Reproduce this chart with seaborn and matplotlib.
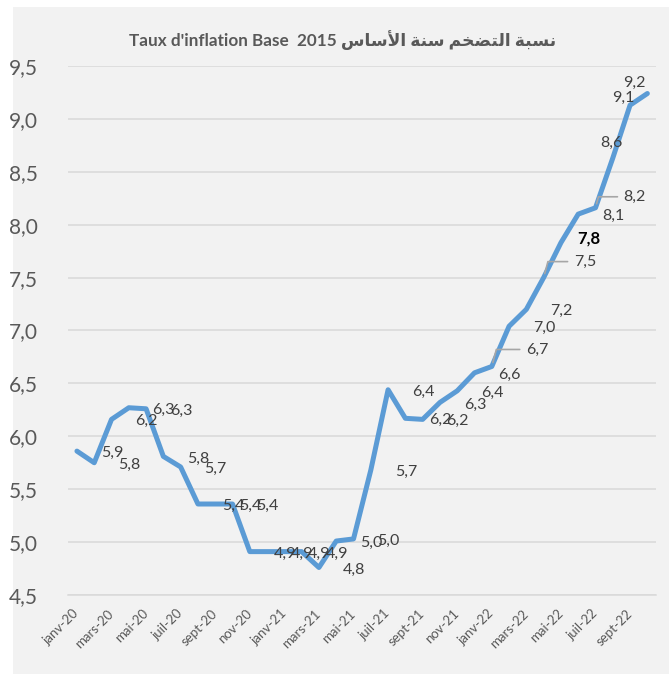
import numpy as np
import pandas as pd
import seaborn as sns
import matplotlib.pyplot as plt
from matplotlib.patches import Rectangle

# monthly inflation rate, base 2015 (janv-20 .. oct-22)
mois = ["janv-20", "févr-20", "mars-20", "avr-20", "mai-20", "juin-20",
        "juil-20", "août-20", "sept-20", "oct-20", "nov-20", "déc-20",
        "janv-21", "févr-21", "mars-21", "avr-21", "mai-21", "juin-21",
        "juil-21", "août-21", "sept-21", "oct-21", "nov-21", "déc-21",
        "janv-22", "févr-22", "mars-22", "avr-22", "mai-22", "juin-22",
        "juil-22", "août-22", "sept-22", "oct-22"]
taux = [5.86, 5.75, 6.16, 6.27, 6.26, 5.81, 5.71, 5.36, 5.36, 5.36,
        4.91, 4.91, 4.91, 4.91, 4.76, 5.01, 5.03, 5.68, 6.44, 6.17,
        6.16, 6.32, 6.43, 6.60, 6.66, 7.04, 7.20, 7.50, 7.83, 8.10,
        8.16, 8.63, 9.13, 9.24]
yticks = [4.5, 5.0, 5.5, 6.0, 6.5, 7.0, 7.5, 8.0, 8.5, 9.0, 9.5]

# title: French + Arabic (Arabic written in visual order, presentation forms)
titre_fr = "Taux d'inflation Base  2015 "
titre_ar = ("\uFEB1\uFE8E\uFEB3\uFEF7\uFE8D" + " " + "\uFE94\uFEE8\uFEB3" + " "
            + "\uFEE2\uFEA8\uFEC0\uFE98\uFEDF\uFE8D" + " " + "\uFE94\uFE92\uFEB4\uFEE7")

df = pd.DataFrame({"idx": np.arange(len(taux)), "mois": mois, "taux": taux})

# label placement (offset pixels from the point), default is right of the point
lbl_default = (35, -2)
lbl_offsets = {24: (40, 17), 27: (36, 16), 28: (28, 4), 30: (34, 11),
               31: (-1, 15), 32: (-7, 7), 33: (-13, 11)}
leaders = [24, 27, 30]

sns.set_style("white", {"axes.facecolor": "#f2f2f2"})
plt.rcParams['font.family'] = ['Lato', 'DejaVu Sans']

fig = plt.figure(figsize=(6.69, 6.74), dpi=100, facecolor="white")
fig.patches.append(Rectangle((13 / 669, 0), 1, 1 - 7 / 674, transform=fig.transFigure,
                             facecolor="#f2f2f2", edgecolor="none", zorder=-10))
ax = fig.add_axes([68.3 / 669, 79 / 674, (656 - 68.3) / 669, (595 - 66) / 674])

sns.lineplot(data=df, x="idx", y="taux", ax=ax, color="#5b9bd5", linewidth=3.6,
             solid_capstyle="round", solid_joinstyle="round", zorder=3)

for i, v in enumerate(taux):
    off = lbl_offsets.get(i, lbl_default)
    txt = f"{v:.1f}".replace(".", ",")
    kw = dict(color="#404040", fontsize=11.5)
    if i == 28:
        kw = dict(color="black", fontsize=12, fontweight="bold")
    if i in leaders:
        ax.annotate(txt, (i, v), xytext=(off[0] - 6, off[1]), textcoords="offset pixels",
                    ha="left", va="center", zorder=4,
                    arrowprops=dict(arrowstyle="-", color="#a6a6a6", lw=1.2,
                                    shrinkA=2, shrinkB=3, relpos=(0, 0.5),
                                    connectionstyle="angle,angleA=0,angleB=75,rad=0"),
                    **kw)
    else:
        ax.annotate(txt, (i, v), xytext=off, textcoords="offset pixels",
                    ha="center", va="center", zorder=4, **kw)

ax.set_xlim(-0.5, len(taux) - 0.5)
ax.set_ylim(4.5, 9.5)
ax.set_yticks(yticks)
ax.set_yticklabels([f"{t:.1f}".replace(".", ",") for t in yticks])
ax.yaxis.grid(True, color="#d9d9d9", linewidth=1.1)
ax.set_axisbelow(True)

ax.set_xticks(df["idx"][::2])
ax.set_xticklabels(df["mois"][::2], rotation=45, ha="right", va="center",
                   rotation_mode="anchor")
ax.set_xticks(np.arange(-0.5, len(taux), 2), minor=True)
ax.tick_params(axis="x", which="major", length=0, pad=12, labelsize=9.5, labelcolor="#595959")
ax.tick_params(axis="x", which="minor", length=5, width=1.1, color="#d9d9d9")
ax.tick_params(axis="y", length=0, pad=22, labelsize=15, labelcolor="#595959")

for s in ["top", "right", "left"]:
    ax.spines[s].set_visible(False)
ax.spines["bottom"].set_color("#d9d9d9")
ax.spines["bottom"].set_linewidth(1.1)
ax.set_xlabel("")
ax.set_ylabel("")

fig.text(343 / 669, 1 - 40 / 674, titre_fr + titre_ar, ha="center", va="center",
         fontsize=12.3, fontweight="bold", color="#595959",
         family=["Lato", "DejaVu Sans"])

fig.savefig("out.png", dpi=100, facecolor=fig.get_facecolor())
